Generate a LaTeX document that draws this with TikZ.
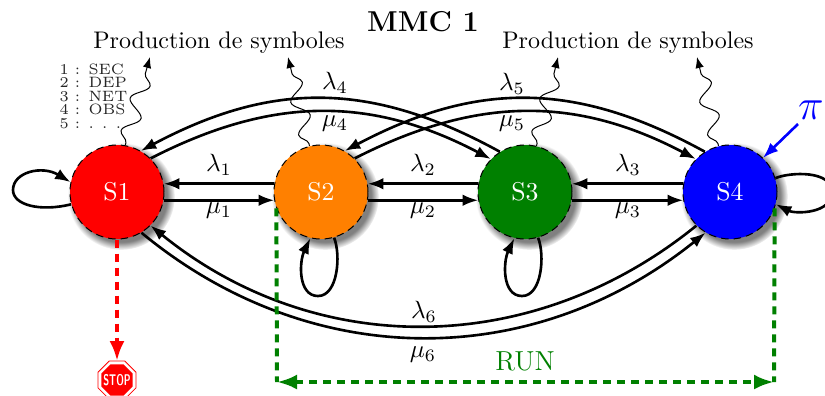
\documentclass[tikz,border=0pt]{standalone}
\usepackage{graphicx}
\usetikzlibrary{arrows.meta,shadows,shapes.geometric,decorations.pathmorphing}
\tikzset{
  st/.style={circle,draw=black,densely dashed,line width=0.4pt,minimum size=37.6pt,inner sep=0pt,text=white,font=\fontsize{10.3}{12}\selectfont,
    circular drop shadow={shadow xshift=1.5pt,shadow yshift=-1.5pt,shadow scale=1.14}},
  arr/.style={line width=1.05pt,-{Latex[length=6.2pt,width=4.6pt]}},
  wav/.style={line width=0.4pt,-{Latex[length=4.4pt,width=3.4pt]},decorate,
    decoration={snake,amplitude=3.2pt,segment length=13.5pt,post length=3pt,pre length=1pt}},
  lab/.style={inner sep=0pt},
  prod/.style={inner sep=0pt,font=\fontsize{9.6}{12}\selectfont},
  rdash/.style={red,line width=1.6pt,dash pattern=on 3.2pt off 2.4pt},
  gdash/.style={green!50!black,line width=1.6pt,dash pattern=on 3.2pt off 2.4pt},
}
\definecolor{orng}{RGB}{255,128,0}
\begin{document}
\begin{tikzpicture}[x=0.4pt,y=-0.4pt]
\useasboundingbox (0,0) rectangle (825,395);
\clip (0,0) rectangle (825,395);
% states
\node[st,fill=red] (s1) at (117,192) {S1};
\node[st,fill=orng] (s2) at (321,192) {S2};
\node[st,fill=green!50!black] (s3) at (525,192) {S3};
\node[st,fill=blue] (s4) at (730,192) {S4};
% texts
\node[inner sep=0pt,font=\fontsize{11.5}{13}\selectfont\bfseries] (title) at (423,22) {MMC 1};
\node[prod] (p1) at (219,43) {Production de symboles};
\node[prod] (p2) at (628,43) {Production de symboles};
\node[inner sep=0pt,anchor=west,align=left,font=\fontsize{6}{5.4}\selectfont,text=black!85] (list) at (59,96) {1 : SEC\\2 : DEP\\3 : NET\\4 : OBS\\5 : . . .};
% straight arrows
\foreach \a/\b/\n in {s1/s2/1,s2/s3/2,s3/s4/3}{
  \draw[arr] (\b.170) -- (\a.10);
  \draw[arr] (\a.-10) -- (\b.190);
}
\node[lab] (l1) at (219,165) {$\lambda_1$};
\node[lab] (m1) at (219,211) {$\mu_1$};
\node[lab] (l2) at (423,165) {$\lambda_2$};
\node[lab] (m2) at (423,211) {$\mu_2$};
\node[lab] (l3) at (628,165) {$\lambda_3$};
\node[lab] (m3) at (628,211) {$\mu_3$};
% upper arcs
\draw[arr] (s3.122) .. controls (371,81) and (272,81) .. (s1.60);
\draw[arr] (s1.45) .. controls (272,96) and (371,96) .. (s3.136);
\draw[arr] (s4.122) .. controls (576,81) and (477,81) .. (s2.60);
\draw[arr] (s2.45) .. controls (477,96) and (576,96) .. (s4.136);
\node[lab] (l4) at (335,83) {$\lambda_4$};
\node[lab] (m4) at (335,124) {$\mu_4$};
\node[lab] (l5) at (512,84) {$\lambda_5$};
\node[lab] (m5) at (512,124) {$\mu_5$};
% lower arcs
\draw[arr] (s4.-135) .. controls (532,359) and (315,359) .. (s1.-45);
\draw[arr] (s1.-59) .. controls (310,372) and (532,372) .. (s4.-121);
\node[lab] (l6) at (424,312) {$\lambda_6$};
\node[lab] (m6) at (423,355) {$\mu_6$};
% self loops
\draw[arr] (s1.195) .. controls (40,212) and (13,205) .. (13,190) .. controls (13,172) and (42,165) .. (s1.168);
\draw[arr] (s2.-74) .. controls (341,255) and (338,296) .. (318,296) .. controls (298,296) and (299,262) .. (s2.-103);
\draw[arr] (s3.-74) .. controls (545,255) and (542,296) .. (522,296) .. controls (502,296) and (503,262) .. (s3.-103);
\draw[arr] (s4.17) .. controls (790,172) and (832,170) .. (832,192) .. controls (832,214) and (795,214) .. (s4.-15);
% emissions
\coordinate (e1) at (150,57);
\coordinate (e2) at (288,57);
\coordinate (e3) at (558,57);
\coordinate (e4) at (697,57);
\draw[wav] (s1.80) -- (e1);
\draw[wav] (s2.104) -- (e2);
\draw[wav] (s3.76) -- (e3);
\draw[wav] (s4.104) -- (e4);
% pi
\node[inner sep=0pt,blue,font=\LARGE] (pi) at (811,110) {$\pi$};
\coordinate (pistart) at (798,124);
\draw[blue,line width=1.05pt,-{Latex[length=6.2pt,width=4.6pt]}] (pistart) -- (s4.46);
% stop
\node[regular polygon,regular polygon sides=8,draw=red,fill=white,line width=0.3pt,minimum size=16.4pt,inner sep=0pt,outer sep=0pt] (stop) at (117,380) {};
\node[regular polygon,regular polygon sides=8,fill=red,minimum size=13.6pt,inner sep=0pt,outer sep=0pt] (stopin) at (117,380) {};
\node[inner sep=0pt,text=white] (stoptxt) at (117,380) {\scalebox{0.62}[1]{\fontsize{6.2}{7}\selectfont\sffamily\bfseries STOP}};
\draw[rdash,-{Latex[length=8pt,width=6pt]}] (s1.south) -- (stop.north);
% run
\coordinate (gl) at (277,382);
\coordinate (gr) at (774,382);
\draw[gdash] (s2.200) -- (gl);
\draw[gdash] (s4.-20) -- (gr);
\draw[gdash,{Latex[length=8pt,width=6pt]}-{Latex[length=8pt,width=6pt]}] (gl) -- (gr);
\node[inner sep=0pt,green!50!black,font=\fontsize{11}{13}\selectfont] (run) at (525,361) {RUN};
\end{tikzpicture}
\end{document}
